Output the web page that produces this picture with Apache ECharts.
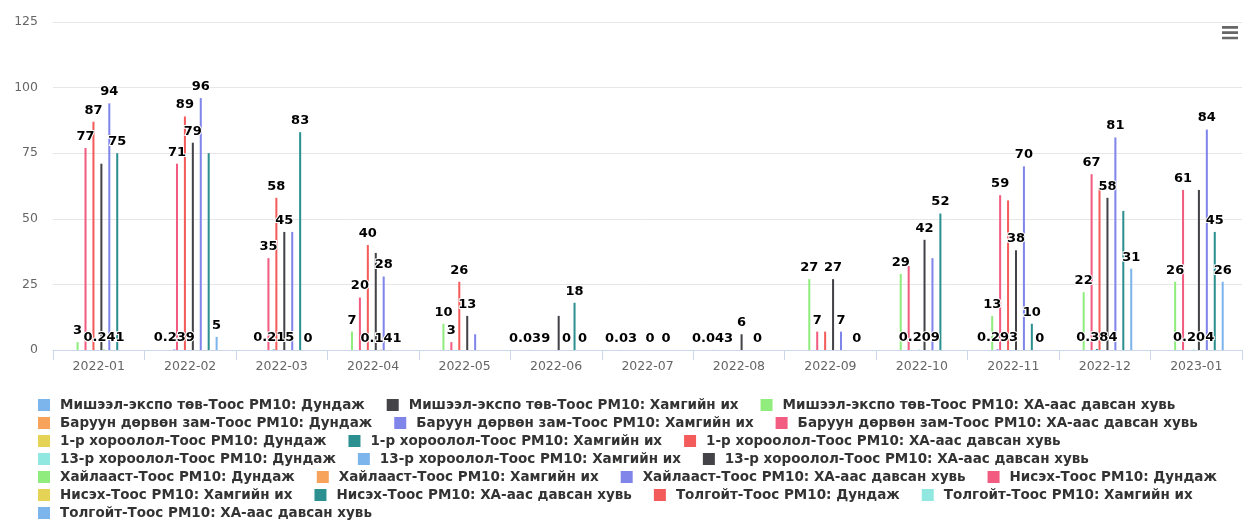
<!DOCTYPE html>
<html><head><meta charset="utf-8">
<script src="https://cdn.jsdelivr.net/npm/echarts@6/dist/echarts.min.js"></script>
<style>html,body{margin:0;padding:0;background:#fff}#c{width:1251px;height:521px}</style>
</head><body><div id="c"></div>
<script>
const months = ['2022-01','2022-02','2022-03','2022-04','2022-05','2022-06','2022-07','2022-08','2022-09','2022-10','2022-11','2022-12','2023-01'];
const yTicks = [0, 25, 50, 75, 100, 125];
const seriesNames = [
  'Мишээл-экспо төв-Тоос PM10: Дундаж',
  'Мишээл-экспо төв-Тоос PM10: Хамгийн их',
  'Мишээл-экспо төв-Тоос PM10: ХА-аас давсан хувь',
  'Баруун дөрвөн зам-Тоос PM10: Дундаж',
  'Баруун дөрвөн зам-Тоос PM10: Хамгийн их',
  'Баруун дөрвөн зам-Тоос PM10: ХА-аас давсан хувь',
  '1-р хороолол-Тоос PM10: Дундаж',
  '1-р хороолол-Тоос PM10: Хамгийн их',
  '1-р хороолол-Тоос PM10: ХА-аас давсан хувь',
  '13-р хороолол-Тоос PM10: Дундаж',
  '13-р хороолол-Тоос PM10: Хамгийн их',
  '13-р хороолол-Тоос PM10: ХА-аас давсан хувь',
  'Хайлааст-Тоос PM10: Дундаж',
  'Хайлааст-Тоос PM10: Хамгийн их',
  'Хайлааст-Тоос PM10: ХА-аас давсан хувь',
  'Нисэх-Тоос PM10: Дундаж',
  'Нисэх-Тоос PM10: Хамгийн их',
  'Нисэх-Тоос PM10: ХА-аас давсан хувь',
  'Толгойт-Тоос PM10: Дундаж',
  'Толгойт-Тоос PM10: Хамгийн их',
  'Толгойт-Тоос PM10: ХА-аас давсан хувь'
];
const N = null;
const mishDun   = [N, N, N, N, N, 0.039, 0.03, 0.043, N, N, N, N, N];
const mishMax   = [N, N, N, N, N, N, N, N, N, N, N, N, N];
const mishHA    = [3, N, N, 7, 10, N, N, N, 27, 29, 13, 22, 26];
const baruunDun = [N, N, N, N, N, N, N, N, N, N, N, N, N];
const baruunMax = [N, 0.239, N, N, N, N, N, N, N, N, 0.293, N, N];
const baruunHA  = [77, 71, 35, 20, 3, N, N, N, 7, 32, 59, 67, 61];
const h1Dun     = [N, N, N, N, N, N, N, N, N, N, N, N, N];
const h1Max     = [N, N, 0.215, N, N, N, N, N, N, N, N, 0.384, N];
const h1HA      = [87, 89, 58, 40, 26, N, N, N, 7, N, 57, 62, N];
const h13Dun    = [N, N, N, N, N, N, N, N, N, 0.209, N, N, 0.204];
const h13Max    = [N, N, N, N, N, N, N, N, N, N, N, N, N];
const h13HA     = [71, 79, 45, 37, 13, 13, 0, 6, 27, 42, 38, 58, 61];
const khaiDun   = [0.241, N, N, N, N, N, N, N, N, N, N, N, N];
const khaiMax   = [N, N, N, 0.141, N, N, N, N, N, N, N, N, N];
const khaiHA    = [94, 96, 45, 28, 6, 0, N, N, 7, 35, 70, 81, 84];
const nisDun    = [N, N, N, N, N, N, N, N, N, N, N, N, N];
const nisMax    = [N, N, N, N, N, N, N, N, N, N, N, N, N];
const nisHA     = [75, 75, 83, N, N, 18, 0, 0, N, 52, 10, 53, 45];
const tolDun    = [N, N, N, N, N, N, N, N, N, N, N, N, N];
const tolMax    = [N, N, N, N, N, N, N, N, N, N, N, N, N];
const tolHA     = [N, 5, 0, N, N, 0, N, N, 0, N, 0, 31, 26];

const seriesValues = [mishDun, mishMax, mishHA, baruunDun, baruunMax, baruunHA,
  h1Dun, h1Max, h1HA, h13Dun, h13Max, h13HA, khaiDun, khaiMax, khaiHA,
  nisDun, nisMax, nisHA, tolDun, tolMax, tolHA];

// data labels hidden by overlap in the original: [series index, month index]
const hiddenLabels = [[11,0],[11,3],[11,5],[11,12],[17,1],[17,11],[14,2],[14,4],[14,9],[5,9],[8,8],[8,10],[8,11]];

const palette = ['#7cb5ec','#434348','#90ed7d','#f7a35c','#8085e9','#f15c80','#e4d354','#2b908f','#f45b5b','#91e8e1'];
const FONT = 'DejaVu Sans';

const isHidden = (s, m) => hiddenLabels.some(p => p[0] === s && p[1] === m);

const series = seriesNames.map((name, si) => ({
  name: name,
  type: 'bar',
  barCategoryGap: '40%',
  barGap: '30%',
  itemStyle: { color: palette[si % palette.length] },
  label: {
    show: true, position: 'top', distance: 5,
    color: '#000', fontWeight: 'bold', fontSize: 13, fontFamily: FONT,
    textBorderColor: '#fff', textBorderWidth: 2
  },
  data: seriesValues[si].map((v, mi) => (v === null ? null :
    (isHidden(si, mi) ? { value: v, label: { show: false } } : v)))
}));

const chart = echarts.init(document.getElementById('c'), null, { renderer: 'canvas' });
chart.setOption({
  animation: false,
  backgroundColor: '#fff',
  color: palette,
  grid: { left: 53, right: 9, top: 22, bottom: 171, containLabel: false, outerBoundsMode: 'none' },
  toolbox: {
    right: 13, top: 26, itemSize: 16, padding: 0,
    iconStyle: { color: '#666', borderWidth: 0 },
    emphasis: { iconStyle: { color: '#666', borderWidth: 0, textFill: 'transparent' } },
    feature: {
      myMenu: { show: true, title: '', icon: 'path://M0,0H18V3H0Z M0,6H18V9H0Z M0,12H18V15H0Z', onclick: function () {} }
    }
  },
  legend: {
    left: 38, top: 398, right: 0, padding: 0,
    itemGap: 4, itemWidth: 12, itemHeight: 12, icon: 'rect',
    textStyle: { color: '#333', fontWeight: 'bold', fontSize: 13.5, fontFamily: FONT, lineHeight: 14, padding: [0, 18, 0, 5] },
    data: seriesNames
  },
  xAxis: {
    type: 'category', data: months,
    axisLine: { lineStyle: { color: '#ccd6eb', width: 1 } },
    axisTick: { show: true, length: 10, lineStyle: { color: '#ccd6eb' } },
    axisLabel: { color: '#666', fontSize: 12.5, fontFamily: FONT, margin: 10 },
    splitLine: { show: false }
  },
  yAxis: {
    type: 'value', min: yTicks[0], max: yTicks[yTicks.length - 1], interval: 25,
    axisLine: { show: false }, axisTick: { show: false },
    axisLabel: { color: '#666', fontSize: 12.5, fontFamily: FONT, margin: 15 },
    splitLine: { lineStyle: { color: '#e6e6e6', width: 1 } }
  },
  series: series
});
</script>
</body></html>
